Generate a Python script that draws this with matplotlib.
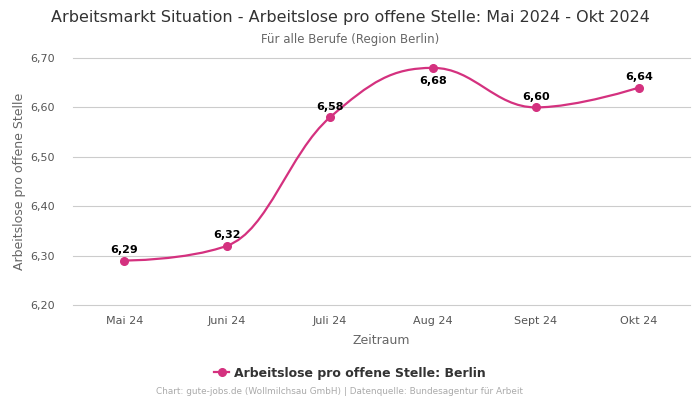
import numpy as np
import matplotlib.pyplot as plt
from matplotlib.path import Path
from matplotlib.patches import PathPatch

# Daten
monate = ['Mai 24', 'Juni 24', 'Juli 24', 'Aug 24', 'Sept 24', 'Okt 24']
werte = [6.29, 6.32, 6.58, 6.68, 6.60, 6.64]
yticks = [6.20, 6.30, 6.40, 6.50, 6.60, 6.70]
label_unten = [False, False, False, True, False, False]

farbe = '#d4317f'


def spline_pfad(xs, ys, smoothing=1.5):
    # Bezier-Kontrollpunkte im Stil einer "spline"-Linie (nur zum Zeichnen)
    n = len(xs)
    left = [(xs[i], ys[i]) for i in range(n)]
    right = [(xs[i], ys[i]) for i in range(n)]
    for i in range(1, n - 1):
        lx = (smoothing * xs[i] + xs[i - 1]) / (smoothing + 1)
        ly = (smoothing * ys[i] + ys[i - 1]) / (smoothing + 1)
        rx = (smoothing * xs[i] + xs[i + 1]) / (smoothing + 1)
        ry = (smoothing * ys[i] + ys[i + 1]) / (smoothing + 1)
        korr = (ry - ly) * (rx - xs[i]) / (rx - lx) + ys[i] - ry
        ly += korr
        ry += korr
        if ly > ys[i - 1] and ly > ys[i]:
            ly = max(ys[i - 1], ys[i])
            ry = 2 * ys[i] - ly
        elif ly < ys[i - 1] and ly < ys[i]:
            ly = min(ys[i - 1], ys[i])
            ry = 2 * ys[i] - ly
        if ry > ys[i + 1] and ry > ys[i]:
            ry = max(ys[i + 1], ys[i])
            ly = 2 * ys[i] - ry
        elif ry < ys[i + 1] and ry < ys[i]:
            ry = min(ys[i + 1], ys[i])
            ly = 2 * ys[i] - ry
        left[i] = (lx, ly)
        right[i] = (rx, ry)
    verts = [(xs[0], ys[0])]
    codes = [Path.MOVETO]
    for i in range(1, n):
        verts += [right[i - 1], left[i], (xs[i], ys[i])]
        codes += [Path.CURVE4] * 3
    return Path(verts, codes)


fig = plt.figure(figsize=(7, 4), dpi=100)
ax = fig.add_axes([0.104, 0.2375, 0.882, 0.6175])

x = np.arange(len(monate))
ax.add_patch(PathPatch(spline_pfad(list(x), werte), facecolor='none',
                       edgecolor=farbe, linewidth=1.6, zorder=3))
ax.plot(x, werte, 'o', color=farbe, markersize=5.5, zorder=4)

# Werte an den Punkten
for xi, w, unten in zip(x, werte, label_unten):
    txt = f'{w:.2f}'.replace('.', ',')
    if unten:
        ax.annotate(txt, (xi, w), xytext=(0, -6), textcoords='offset points',
                    ha='center', va='top', fontsize=8, fontweight='bold')
    else:
        ax.annotate(txt, (xi, w), xytext=(0, 4), textcoords='offset points',
                    ha='center', va='bottom', fontsize=8, fontweight='bold')

ax.set_xlim(-0.5, len(monate) - 0.5)
ax.set_ylim(6.20, 6.70)
ax.set_xticks(x)
ax.set_xticklabels(monate, fontsize=8, color='#555555')
ax.set_yticks(yticks)
ax.set_yticklabels([f'{v:.2f}'.replace('.', ',') for v in yticks], fontsize=8, color='#555555')
ax.tick_params(axis='x', length=0, pad=8)
ax.tick_params(axis='y', length=0, pad=13)

# Gitterlinien (auch am Rand sichtbar)
for v in yticks:
    ax.axhline(v, color='#cccccc', linewidth=0.8, zorder=1, clip_on=False)
for s in ax.spines.values():
    s.set_visible(False)

ax.set_xlabel('Zeitraum', fontsize=9, color='#666666', labelpad=6)
ax.set_ylabel('Arbeitslose pro offene Stelle', fontsize=9, color='#666666', labelpad=3)

# Titel
fig.text(0.5, 0.957, 'Arbeitsmarkt Situation - Arbeitslose pro offene Stelle: Mai 2024 - Okt 2024',
         ha='center', va='center', fontsize=11.5, color='#333333')
fig.text(0.5, 0.902, 'Für alle Berufe (Region Berlin)',
         ha='center', va='center', fontsize=8.5, color='#666666')

# Legende
ax.plot([], [], '-o', color=farbe, markersize=5.5, linewidth=1.6,
        label='Arbeitslose pro offene Stelle: Berlin')
leg = fig.legend(loc='center', bbox_to_anchor=(0.5, 0.067), frameon=False,
                 prop={'size': 9, 'weight': 'bold'}, handlelength=1.2, handletextpad=0.4)
for t in leg.get_texts():
    t.set_color('#333333')

fig.text(0.485, 0.02, 'Chart: gute-jobs.de (Wollmilchsau GmbH) | Datenquelle: Bundesagentur für Arbeit',
         ha='center', va='center', fontsize=6.4, color='#aaaaaa')

plt.savefig('out.png', dpi=100)
